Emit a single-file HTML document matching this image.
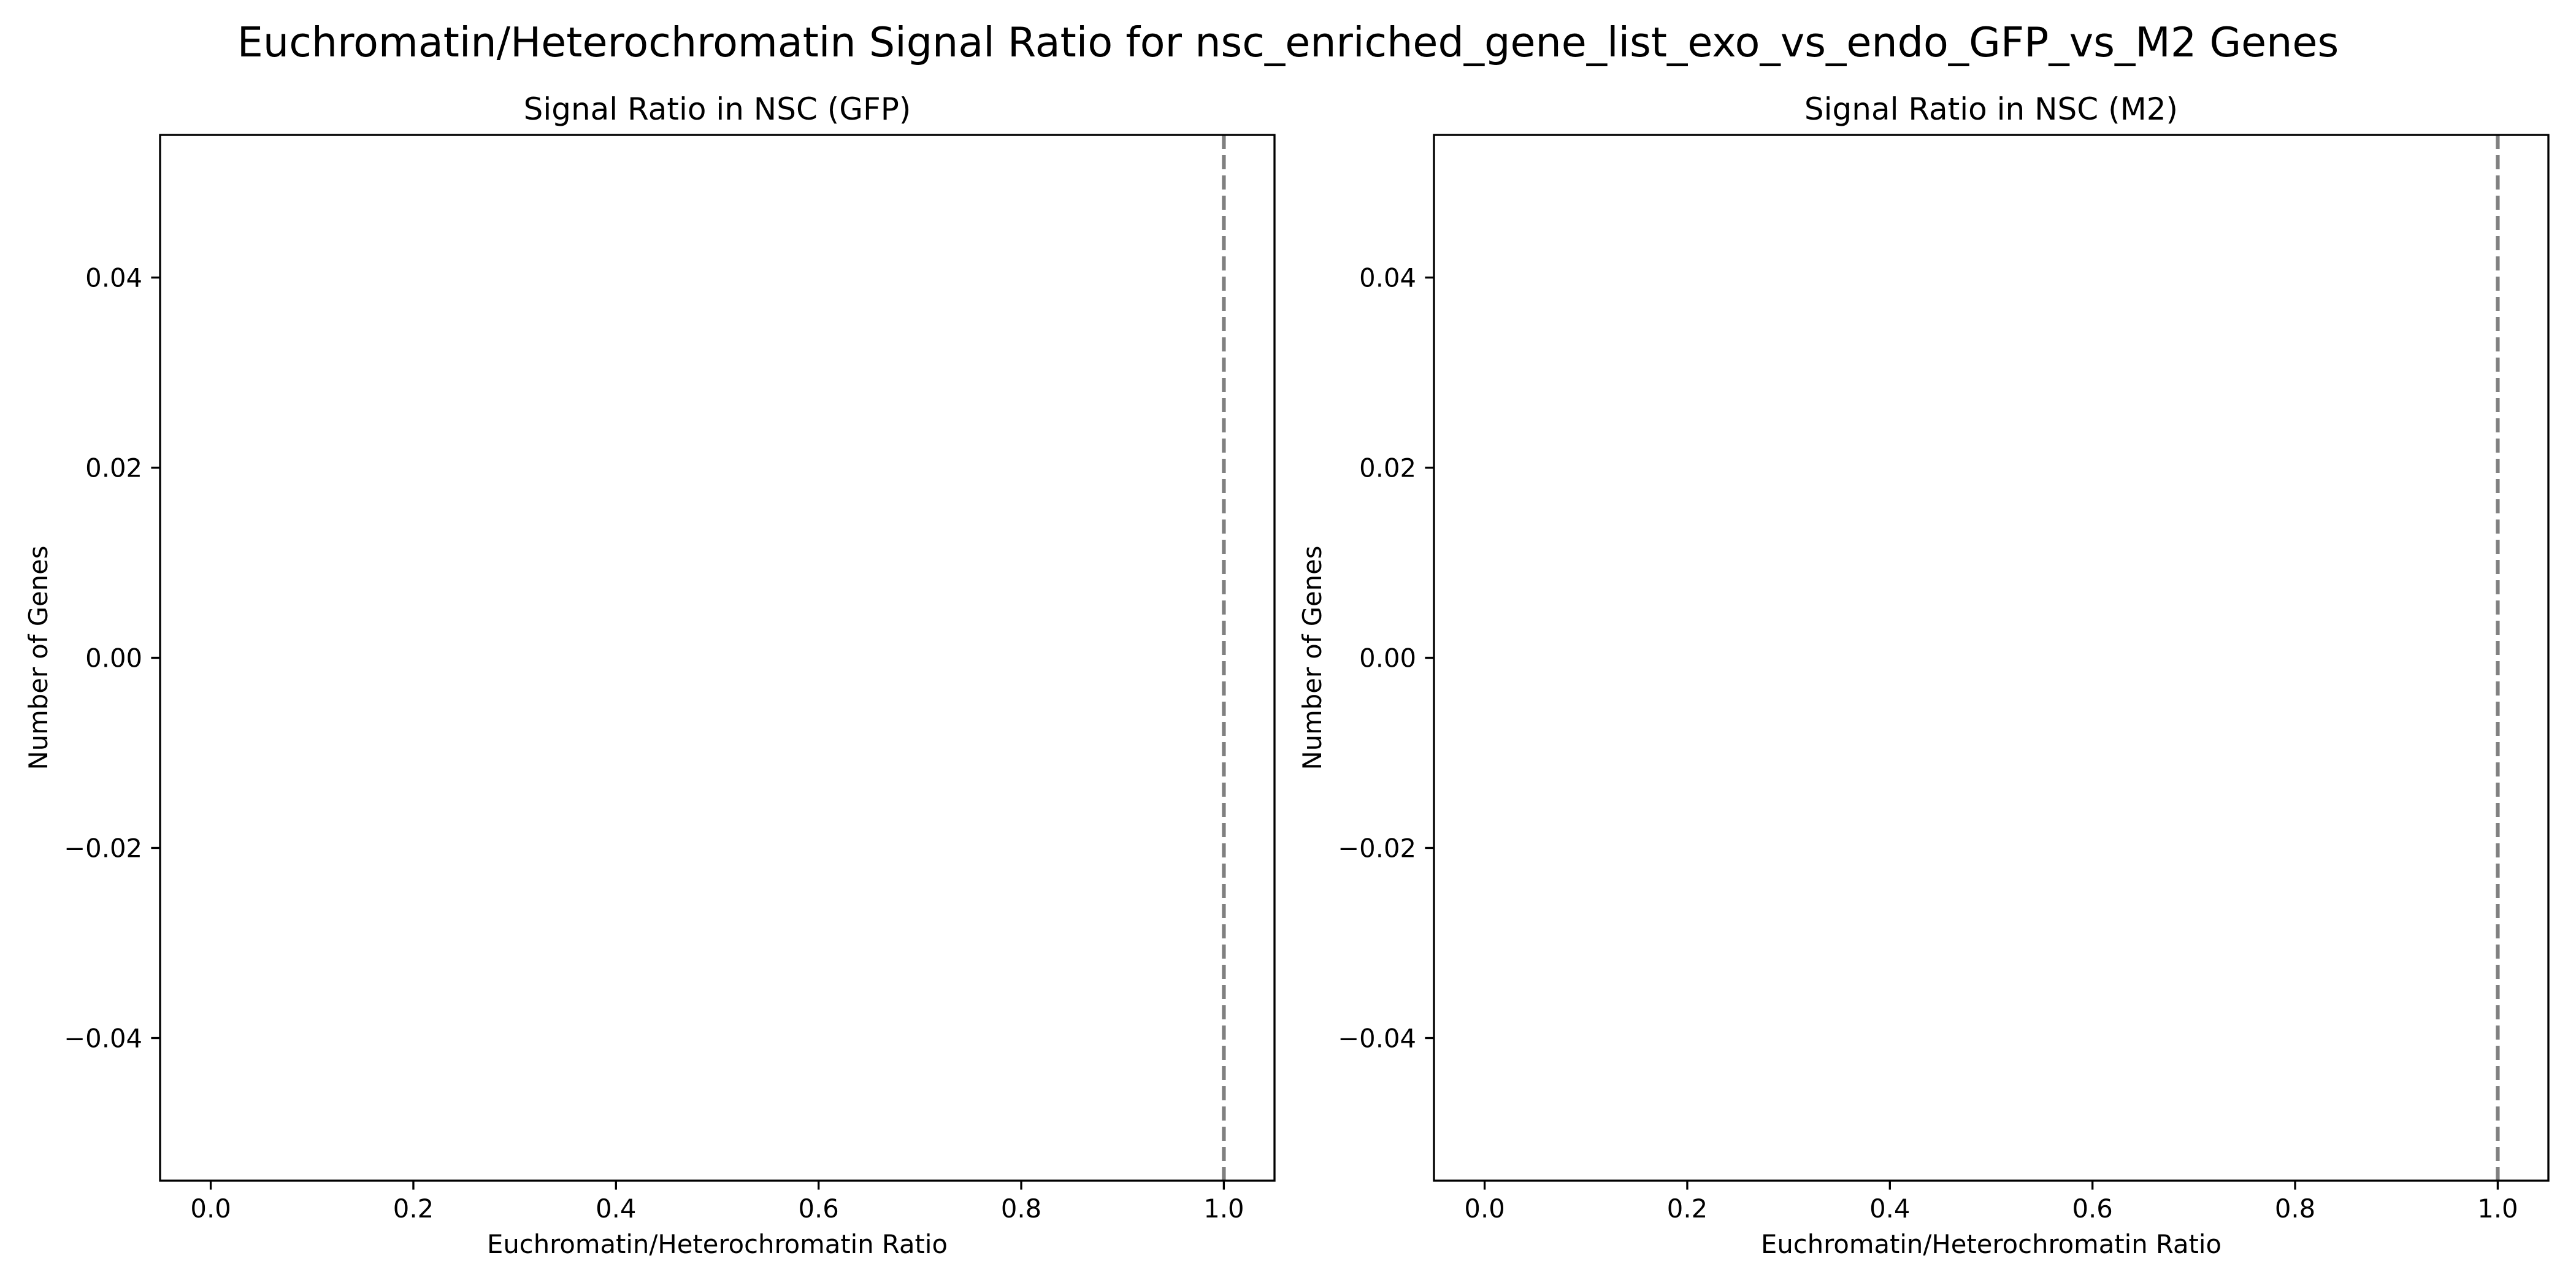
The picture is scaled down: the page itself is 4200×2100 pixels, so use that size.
<!DOCTYPE html>
<html><head><meta charset="utf-8"><style>
html,body{margin:0;padding:0;background:#fff;}
svg{display:block;font-family:"DejaVu Sans","Liberation Sans",sans-serif;}
</style></head><body>
<svg id="fig" width="4200" height="2100" viewBox="0 0 4200 2100" xmlns="http://www.w3.org/2000/svg">
<rect width="4200" height="2100" fill="#fff"/>
<text x="2100" y="92" font-size="66.7" text-anchor="middle">Euchromatin/Heterochromatin Signal Ratio for nsc_enriched_gene_list_exo_vs_endo_GFP_vs_M2 Genes</text>
</svg>
<script>
const panelTitles = ["Signal Ratio in NSC (GFP)", "Signal Ratio in NSC (M2)"];
const xTicks = [0.0, 0.2, 0.4, 0.6, 0.8, 1.0];
const xTickLabels = ["0.0", "0.2", "0.4", "0.6", "0.8", "1.0"];
const yTicks = [-0.04, -0.02, 0.00, 0.02, 0.04];
const yTickLabels = ["\u22120.04", "\u22120.02", "0.00", "0.02", "0.04"];
const refLineX = [1.0, 1.0];
const xDomain = [-0.05, 1.05];
const yDomain = [-0.055, 0.055];

const NS = "http://www.w3.org/2000/svg";
const svg = document.getElementById("fig");
function mk(tag, attrs, parent) {
  const e = document.createElementNS(NS, tag);
  for (const k in attrs) e.setAttribute(k, attrs[k]);
  (parent || svg).appendChild(e);
  return e;
}
const lefts = [261, 2338];
const axW = 1817, axTop = 220, axBottom = 1925, axH = axBottom - axTop;

panelTitles.forEach((t, i) => {
  const L = lefts[i];
  const g = mk("g", {});
  
  
  const sx = v => L + (v - xDomain[0]) / (xDomain[1] - xDomain[0]) * axW;
  const sy = v => axBottom - (v - yDomain[0]) / (yDomain[1] - yDomain[0]) * axH;

  const ttl = mk("text", {x: L + axW / 2, y: 195, "font-size": 50, "text-anchor": "middle"}, g);
  ttl.textContent = t;
  
  

  const ref = mk("line", {x1: sx(refLineX[i]), x2: sx(refLineX[i]), y1: axTop, y2: axBottom, stroke: "#808080", "stroke-width": 6.25, "stroke-dasharray": "23 10"}, g);
  
  

  xTicks.forEach((v, j) => {
    const x = sx(v);
    const tk = mk("line", {x1: x, x2: x, y1: axBottom, y2: axBottom + 14.6, stroke: "#000", "stroke-width": 3.33}, g);
    
    
    const lb = mk("text", {x: x, y: axBottom + 60, "font-size": 41.7, "text-anchor": "middle"}, g);
    lb.textContent = xTickLabels[j];
    
    
  });
  yTicks.forEach((v, j) => {
    const y = sy(v);
    const tk = mk("line", {x1: L - 14.6, x2: L, y1: y, y2: y, stroke: "#000", "stroke-width": 3.33}, g);
    
    
    const lb = mk("text", {x: L - 29, y: y + 15, "font-size": 41.7, "text-anchor": "end"}, g);
    lb.textContent = yTickLabels[j];
    
    
  });

  const frame = mk("rect", {x: L, y: axTop, width: axW, height: axH, fill: "none", stroke: "#000", "stroke-width": 3.33}, g);
  
  

  const xl = mk("text", {x: L + axW / 2, y: 2043, "font-size": 41.7, "text-anchor": "middle"}, g);
  xl.textContent = "Euchromatin/Heterochromatin Ratio";
  
  

  const yx = L - 184, yy = axTop + axH / 2;
  const yl = mk("text", {x: yx, y: yy, "font-size": 41.7, "text-anchor": "middle", transform: "rotate(-90 " + yx + " " + yy + ")"}, g);
  yl.textContent = "Number of Genes";
  
  
});
</script>
</body></html>
